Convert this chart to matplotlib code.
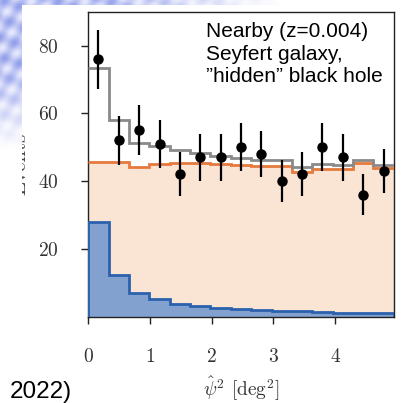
import numpy as np
import matplotlib
matplotlib.use("Agg")
import matplotlib.pyplot as plt
from matplotlib.patches import Rectangle
from matplotlib.transforms import Bbox

plt.rcParams['mathtext.fontset'] = 'cm'
plt.rcParams['font.family'] = 'serif'
plt.rcParams['font.serif'] = ['cmr10', 'DejaVu Serif']
plt.rcParams['axes.formatter.use_mathtext'] = True

# === DATA ===
bin_edges = [0.0, 0.33, 0.66, 0.99, 1.32, 1.65, 1.98, 2.31, 2.64, 2.97,
             3.30, 3.63, 3.96, 4.29, 4.62, 4.95]
bin_centers = [0.165, 0.495, 0.825, 1.155, 1.485, 1.815, 2.145, 2.475,
               2.805, 3.135, 3.465, 3.795, 4.125, 4.455, 4.785]
observed = [76, 52, 55, 51, 42, 47, 47, 50, 48, 40, 42, 50, 47, 36, 43]
observed_err = [8.7, 7.2, 7.4, 7.1, 6.5, 6.9, 6.9, 7.1, 6.9, 6.3, 6.5, 7.1, 6.9, 6.0, 6.6]
background = [45.6, 45.6, 44.2, 45.1, 45.3, 45.2, 44.9, 44.6, 44.4, 44.4,
              42.7, 43.7, 43.5, 45.2, 43.9]
source = [27.8, 12.3, 7.0, 5.3, 3.8, 3.1, 2.6, 2.3, 1.9, 1.7,
          1.5, 1.3, 1.1, 1.0, 0.9]
total = [b + s for b, s in zip(background, source)]

x_ticks = [0, 1, 2, 3, 4]
y_ticks = [20, 40, 60, 80]

W, H = 406, 403
fig = plt.figure(figsize=(W / 100, H / 100), dpi=100)

# --- slide background: soft blue streaks top-left, white panel on top ---
bg = fig.add_axes([0, 0, 1, 1], zorder=-10)
yy, xx = np.mgrid[0:H, 0:W].astype(float)
pattern = 0.5 + 0.25 * np.sin(0.35 * xx + 0.22 * yy) + 0.25 * np.sin(0.12 * xx - 0.33 * yy + 1.3)
fade = np.clip((150 - yy) / 80, 0, 1) * np.clip((60 - xx) / 40, 0, 1)
fade = np.maximum(fade, np.clip((280 - xx) / 180, 0, 1) * np.clip((8 - yy) / 4, 0, 1))
light = np.array([0.90, 0.91, 0.99])
dark = np.array([0.58, 0.63, 0.92])
col = light[None, None, :] * (1 - pattern[..., None]) + dark[None, None, :] * pattern[..., None]
img = 1 - fade[..., None] * (1 - col)
bg.imshow(img, extent=[0, W, H, 0], aspect='auto', interpolation='bilinear')
bg.add_patch(Rectangle((22, 5), W, H, facecolor='white', edgecolor='none'))
bg.set_xlim(0, W)
bg.set_ylim(H, 0)
bg.axis('off')

# --- main axes ---
ax = fig.add_axes([88.3 / W, 1 - 316.5 / H, (393.7 - 88.3) / W, (316.5 - 11.7) / H])
ax.stairs(background, bin_edges, fill=True, color='#fae4d4', baseline=0, zorder=1)
ax.stairs(source, bin_edges, fill=True, color='#82a1cf', baseline=0, zorder=2)
ax.stairs(source, bin_edges, color='#2a62ad', lw=2.0, baseline=0, zorder=3)
ax.stairs(background, bin_edges, color='#e57a3c', lw=2.0, baseline=None, zorder=4)
ax.stairs(total, bin_edges, color='#8a8a8a', lw=2.0, baseline=None, zorder=5)
ax.errorbar(bin_centers, observed, yerr=observed_err, fmt='o', color='black',
            ms=6.5, elinewidth=1.6, capsize=0, zorder=6)

ax.set_xlim(0, 4.95)
ax.set_ylim(0, 90)
ax.set_xticks(x_ticks)
ax.set_yticks(y_ticks)
ax.tick_params(direction='out', length=5, width=1.0, labelsize=14,
               labelcolor='#333333', color='#222222')
ax.tick_params(axis='y', pad=16)
ax.tick_params(axis='x', pad=18)
for sp in ax.spines.values():
    sp.set_linewidth(1.0)
    sp.set_color('#222222')

ax.set_xlabel(r'$\hat{\psi}^2$ [deg$^2$]', fontsize=14, color='#333333', labelpad=6)

# y label, only its right edge shows past the panel border
ylab = fig.text(29 / W, 1 - 164 / H, 'Events', rotation=90, ha='right', va='center',
                fontsize=15, color='#444444')
ylab.set_clip_box(Bbox.from_extents(22, 0, W, H))
ylab.set_clip_on(True)

ax.text(0.385, 0.965, 'Nearby (z=0.004)\nSeyfert galaxy,\n\u201dhidden\u201d black hole',
        transform=ax.transAxes, ha='left', va='top', fontsize=15,
        family='Liberation Sans', color='black', linespacing=1.22, zorder=7)

fig.text(72 / W, 1 - 398 / H, '2022)', ha='right', va='baseline', fontsize=17.5,
         family='Liberation Sans', color='black')

fig.savefig('out.png', dpi=100)
